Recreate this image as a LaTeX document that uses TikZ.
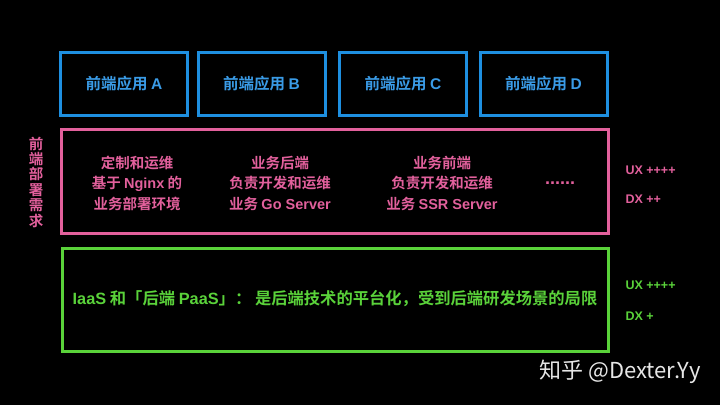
\documentclass[tikz,border=0pt]{standalone}
\usepackage{fontspec}
\setmainfont{Noto Sans CJK SC}[BoldFont={* Bold}]
\newfontfamily\wmfont{Noto Sans CJK SC}
\newfontfamily\latf{Liberation Sans}
\newcommand{\lt}[1]{{\latf\bfseries #1}}
\definecolor{cblue}{HTML}{1E8FE0}
\definecolor{cbluet}{HTML}{3A9BE6}
\definecolor{cpink}{HTML}{E2609C}
\definecolor{cgreen}{HTML}{5AD23A}
\definecolor{cwm}{HTML}{E6E6E6}
\begin{document}
\begin{tikzpicture}[x=1pt,y=-1pt,
  bluebox/.style={draw=cblue,line width=3pt,minimum width=127pt,minimum height=63pt,inner sep=0pt,text=cbluet,font=\bfseries\fontsize{15.5}{17}\selectfont},
  layerbox/.style={draw=#1,line width=3pt,inner sep=0pt},
  pinktxt/.style={text=cpink,align=center,font=\bfseries\fontsize{14.5}{20.5}\selectfont},
  sidetxt/.style={text=#1,anchor=west,font=\latf\bfseries\fontsize{12.5}{14}\selectfont},
]
\fill[black] (0,0) rectangle (720,405);
\useasboundingbox (0,0) rectangle (720,405);
% top row
\node[bluebox] (fa) at (124,84) {前端应用 \lt{A}};
\node[bluebox] (fb) at (261.5,84) {前端应用 \lt{B}};
\node[bluebox] (fc) at (403,84) {前端应用 \lt{C}};
\node[bluebox] (fd) at (543.5,84) {前端应用 \lt{D}};
% pink layer
\node[layerbox=cpink,minimum width=547pt,minimum height=104pt] (pl) at (334.5,181) {};
\node[pinktxt] (p1) at (137,183) {定制和运维\\基于 \lt{Nginx} 的\\业务部署环境};
\node[pinktxt] (p2) at (280,183) {业务后端\\负责开发和运维\\业务 \lt{Go Server}};
\node[pinktxt] (p3) at (442,183) {业务前端\\负责开发和运维\\业务 \lt{SSR Server}};
\node[text=cpink,font=\latf\bfseries\fontsize{18}{20}\selectfont] (p4) at (560,183) {......};
\node[text=cpink,align=center,font=\bfseries\fontsize{14.5}{15.4}\selectfont] (side) at (36,182) {前\\端\\部\\署\\需\\求};
\node[sidetxt=cpink] (ux1) at (622,170) {UX ++++};
\node[sidetxt=cpink] (dx1) at (622,199) {DX ++};
% green layer
\node[layerbox=cgreen,minimum width=546pt,minimum height=103pt] (gl) at (335,299.5) {};
\node[text=cgreen,font=\bfseries\fontsize{16.3}{18}\selectfont] (gt) at (335,299) {\lt{IaaS} 和「后端 \lt{PaaS}」： 是后端技术的平台化，受到后端研发场景的局限};
\node[sidetxt=cgreen] (ux2) at (622,285) {UX ++++};
\node[sidetxt=cgreen] (dx2) at (622,316) {DX +};
% watermark
\node[text=cwm,anchor=west,font=\wmfont\fontsize{22}{24}\selectfont] (wm) at (536,372) {知乎 @Dexter.Yy};
\end{tikzpicture}
\end{document}
